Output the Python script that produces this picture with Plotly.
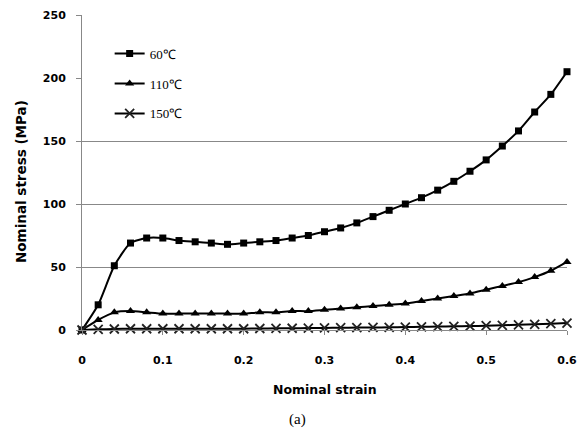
import plotly.graph_objects as go

strain = [0.00, 0.02, 0.04, 0.06, 0.08, 0.10, 0.12, 0.14, 0.16, 0.18, 0.20,
          0.22, 0.24, 0.26, 0.28, 0.30, 0.32, 0.34, 0.36, 0.38, 0.40,
          0.42, 0.44, 0.46, 0.48, 0.50, 0.52, 0.54, 0.56, 0.58, 0.60]

stress_60 = [0, 20, 51, 69, 73, 73, 71, 70, 69, 68, 69,
             70, 71, 73, 75, 78, 81, 85, 90, 95, 100,
             105, 111, 118, 126, 135, 146, 158, 173, 187, 205]

stress_110 = [0, 8, 14, 15, 14, 13, 13, 13, 13, 13, 13,
              14, 14, 15, 15, 16, 17, 18, 19, 20, 21,
              23, 25, 27, 29, 32, 35, 38, 42, 47, 54]

stress_150 = [0, 0.5, 0.8, 1, 1, 1, 1, 1, 1, 1, 1,
              1.2, 1.3, 1.4, 1.5, 1.6, 1.8, 1.9, 2, 2.1, 2.3,
              2.5, 2.7, 2.9, 3.1, 3.4, 3.7, 4.1, 4.5, 5, 5.5]

series_names = ["60℃", "110℃", "150℃"]
y_ticks = [0, 50, 100, 150, 200, 250]
grid_ticks = [50, 100, 150]
x_ticks = [0, 0.1, 0.2, 0.3, 0.4, 0.5, 0.6]
x_tick_text = ["0", "0.1", "0.2", "0.3", "0.4", "0.5", "0.6"]

fig = go.Figure()

styles = [
    dict(symbol="square", size=7, line=dict(width=0)),
    dict(symbol="triangle-up", size=8, line=dict(width=0)),
    dict(symbol="x-thin", size=9, line=dict(width=1.8, color="#222")),
]
for i, (name, ys) in enumerate(zip(series_names, [stress_60, stress_110, stress_150])):
    fig.add_trace(go.Scatter(
        x=strain, y=ys, name=name, mode="lines+markers",
        line=dict(color="black", width=2, shape="spline", smoothing=0.6),
        marker=dict(color="black", **styles[i]),
        legendgroup=f"g{i}", cliponaxis=False,
    ))

# invisible trace on overlay axis to carry selective gridlines
fig.add_trace(go.Scatter(x=[0], y=[0], xaxis="x", yaxis="y2",
                         mode="markers", marker=dict(opacity=0),
                         showlegend=False, hoverinfo="skip"))

tick_font = dict(family="DejaVu Sans", size=11, color="black", weight="bold")
title_font = dict(family="DejaVu Sans", color="black", weight="bold")

# page body has an 8px default margin, so the figure is drawn 8px smaller
fig.update_layout(
    width=579, height=422,
    margin=dict(l=74, r=20, t=7, b=100, autoexpand=False),
    paper_bgcolor="white", plot_bgcolor="rgba(0,0,0,0)",
    showlegend=True,
    legend=dict(x=0.057, y=0.925, xanchor="left", yanchor="top",
                bgcolor="rgba(0,0,0,0)", tracegroupgap=10,
                traceorder="grouped",
                font=dict(family="Liberation Serif", size=13, color="black"),
                itemwidth=30),
    xaxis=dict(range=[0, 0.6], tickvals=x_ticks, ticktext=x_tick_text,
               showgrid=False, zeroline=False, showline=True,
               linecolor="#888", linewidth=1, ticks="outside", ticklen=4,
               tickcolor="#888", tickfont=tick_font, ticklabelstandoff=16,
               automargin=False),
    yaxis=dict(range=[0, 250], tickvals=y_ticks, showgrid=False,
               zeroline=False, showline=True, linecolor="#888", linewidth=1,
               ticks="outside", ticklen=5, tickcolor="#888",
               tickfont=tick_font, ticklabelstandoff=8, automargin=False),
    yaxis2=dict(range=[0, 250], overlaying="y", tickvals=grid_ticks,
                showticklabels=False, showgrid=True, gridcolor="#888",
                gridwidth=1, zeroline=False, showline=False, automargin=False),
    annotations=[
        dict(text="Nominal strain", x=0.5, y=0, xref="paper", yref="paper",
             yanchor="middle", yshift=-59, showarrow=False,
             font=dict(size=12.5, **title_font)),
        dict(text="Nominal stress (MPa)", x=0, y=0.47, xref="paper", yref="paper",
             xanchor="center", yanchor="middle", xshift=-61, textangle=-90,
             showarrow=False, font=dict(size=13.5, **title_font)),
        dict(text="(a)", x=0.445, y=0, xref="paper", yref="paper",
             yanchor="middle", yshift=-89, showarrow=False,
             font=dict(family="Liberation Serif", size=15, color="black")),
    ],
)

fig.write_html("out.html")
